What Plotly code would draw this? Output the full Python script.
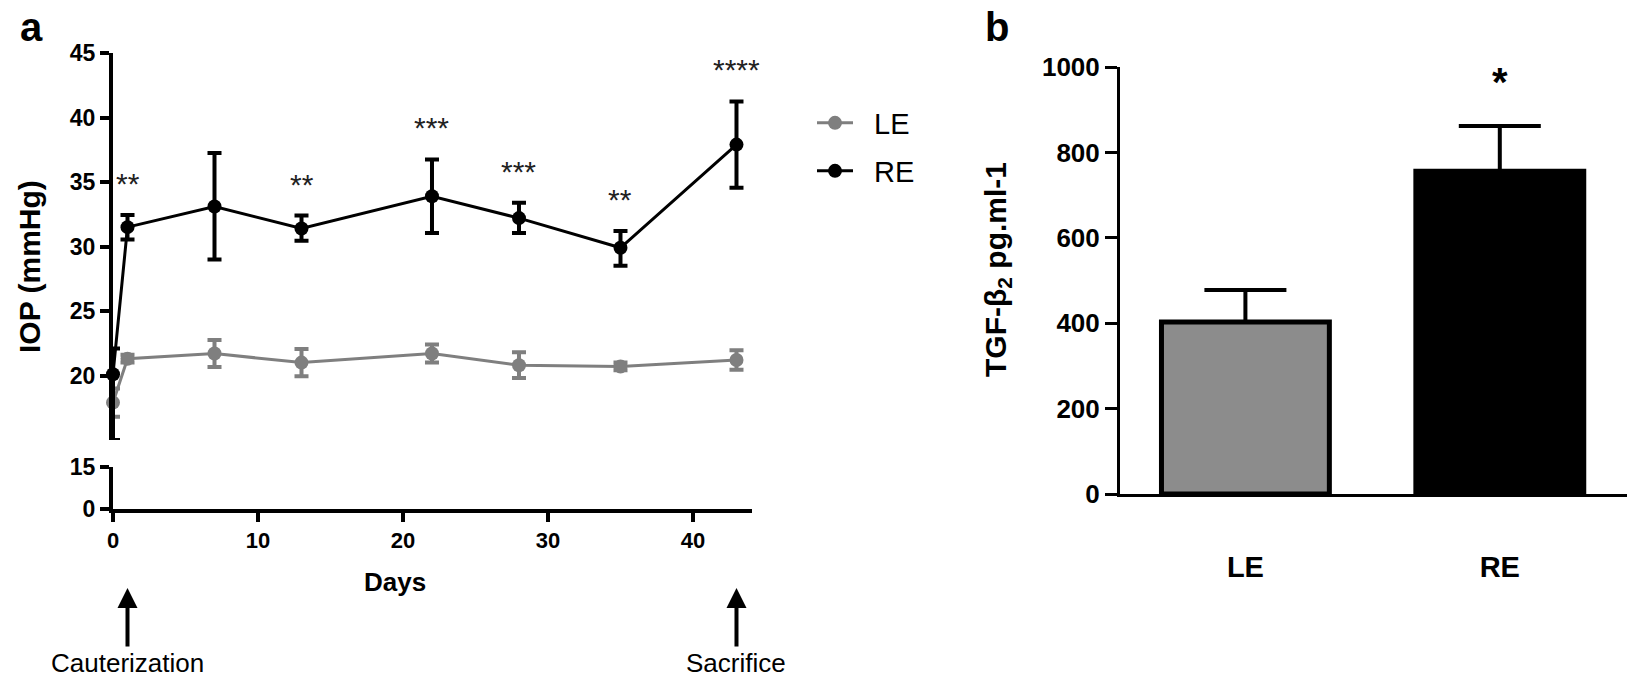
import plotly.graph_objects as go

# ---------------- data ----------------
days = [0, 1, 7, 13, 22, 28, 35, 43]
le_mean = [17.9, 21.3, 21.7, 21.0, 21.7, 20.8, 20.7, 21.2]
le_sem = [1.1, 0.3, 1.05, 1.05, 0.7, 1.0, 0.3, 0.75]
re_mean = [20.1, 31.5, 33.1, 31.4, 33.9, 32.2, 29.9, 37.9]
re_sem_up = [2.0, 0.95, 4.15, 1.0, 2.85, 1.2, 1.3, 3.35]
re_sem_down = [5.1, 0.95, 4.1, 0.95, 2.85, 1.15, 1.4, 3.35]
sig_labels = ["", "**", "", "**", "***", "***", "**", "****"]

event_days = [1, 43]
event_labels = ["Cauterization", "Sacrifice"]

bar_groups = ["LE", "RE"]
bar_values = [403, 756]
bar_err = [75, 106]
bar_sig = ["", "*"]

x_ticks_a = [0, 10, 20, 30, 40]
y_ticks_upper = [20, 25, 30, 35, 40, 45]
y_ticks_lower = [0, 15]
y_ticks_b = [0, 200, 400, 600, 800, 1000]

# ---------------- style ----------------
W, H = 1642, 678
def px(x):
    return x / W
def py(y):
    return 1 - y / H

ARIAL = "Liberation Sans, Arial, sans-serif"
GRAY = "#7f7f7f"
BLACK = "#000000"
NBSP = "\u00a0"

fig = go.Figure()

# invisible trace so that the lower (broken) y segment exists
fig.add_trace(go.Scatter(x=[None], y=[None], xaxis="x", yaxis="y2",
                         showlegend=False, hoverinfo="skip"))

fig.add_trace(go.Scatter(
    x=days, y=le_mean, name=NBSP * 2 + "LE", mode="lines+markers",
    line=dict(color=GRAY, width=3),
    marker=dict(color=GRAY, size=14),
    error_y=dict(type="data", array=le_sem, color=GRAY, thickness=4, width=7),
    xaxis="x", yaxis="y", legend="legend", cliponaxis=False,
))
fig.add_trace(go.Scatter(
    x=days, y=re_mean, name=NBSP * 2 + "RE", mode="lines+markers",
    line=dict(color=BLACK, width=3),
    marker=dict(color=BLACK, size=14),
    error_y=dict(type="data", symmetric=False, array=re_sem_up,
                 arrayminus=re_sem_down, color=BLACK, thickness=4, width=7),
    xaxis="x", yaxis="y", legend="legend2", cliponaxis=False,
))

fig.add_trace(go.Bar(
    x=bar_groups, y=bar_values, width=0.66,
    marker=dict(color=["#8c8c8c", BLACK], line=dict(color=BLACK, width=5)),
    error_y=dict(type="data", symmetric=False, array=bar_err,
                 arrayminus=[0 for _ in bar_err], color=BLACK, thickness=4, width=41),
    xaxis="x3", yaxis="y3", showlegend=False,
))

axis_common = dict(showgrid=False, zeroline=False, showline=True, automargin=False,
                   linecolor=BLACK, ticks="outside", tickcolor=BLACK)

fig.update_layout(
    width=W, height=H,
    margin=dict(l=0, r=0, t=0, b=0, autoexpand=False),
    plot_bgcolor="white", paper_bgcolor="white",
    xaxis=dict(domain=[px(113), px(752)], range=[0, 44.07], anchor="y2",
               tickvals=x_ticks_a, ticklen=9, tickwidth=4, linewidth=4,
               tickfont=dict(family=ARIAL, size=22, color=BLACK, weight="bold"),
               **axis_common),
    yaxis=dict(domain=[py(440), py(53)], range=[15, 45], anchor="x",
               tickvals=y_ticks_upper, ticklen=9, tickwidth=4, linewidth=4,
               tickfont=dict(family=ARIAL, size=23, color=BLACK, weight="bold"),
               **axis_common),
    yaxis2=dict(domain=[py(509), py(467)], range=[0, 15], anchor="x",
                tickvals=y_ticks_lower, ticklen=9, tickwidth=4, linewidth=4,
                tickfont=dict(family=ARIAL, size=23, color=BLACK, weight="bold"),
                **axis_common),
    xaxis3=dict(domain=[px(1120), px(1627)], range=[-0.493, 1.5], anchor="y3",
                type="category", showgrid=False, zeroline=False, showline=True,
                automargin=False, linecolor=BLACK, linewidth=3, ticks="",
                ticklabelstandoff=45,
                tickfont=dict(family=ARIAL, size=29, color=BLACK, weight="bold")),
    yaxis3=dict(domain=[py(494), py(67)], range=[0, 1000], anchor="x3",
                tickvals=y_ticks_b, ticklen=12, tickwidth=3, linewidth=3,
                tickfont=dict(family=ARIAL, size=26, color=BLACK, weight="bold"),
                **axis_common),
    legend=dict(x=px(812), y=py(123), xanchor="left", yanchor="middle", itemwidth=36,
                bgcolor="rgba(0,0,0,0)", font=dict(family=ARIAL, size=29, color=BLACK)),
    legend2=dict(x=px(812), y=py(171), xanchor="left", yanchor="middle", itemwidth=36,
                 bgcolor="rgba(0,0,0,0)", font=dict(family=ARIAL, size=29, color=BLACK)),
)

def label(text, x, y, size, bold=True, angle=0):
    return dict(text=text, x=px(x), y=py(y), xref="paper", yref="paper",
                xanchor="center", yanchor="middle", textangle=angle, showarrow=False,
                font=dict(family=ARIAL, size=size, color=BLACK,
                          weight="bold" if bold else "normal"))

ann = [
    label("a", 31, 27, 40),
    label("b", 997, 27, 40),
    label("IOP (mmHg)", 29, 267, 30, angle=-90),
    label("TGF-β<sub>2</sub> pg.ml-1", 998, 270, 30, angle=-90),
    label("Days", 395, 582, 26),
]

for d, lab in zip(event_days, event_labels):
    ann.append(dict(text=lab, x=d, xref="x", y=py(588), yref="paper",
                    showarrow=True, ax=0, ay=75, arrowhead=2, arrowsize=1.0,
                    arrowwidth=4, arrowcolor=BLACK,
                    font=dict(family=ARIAL, size=26, color=BLACK)))

for d, m, e, lab in zip(days, re_mean, re_sem_up, sig_labels):
    if lab:
        ann.append(dict(text=lab, x=d, y=m + e, xref="x", yref="y",
                        xanchor="center", yanchor="bottom", yshift=13, showarrow=False,
                        font=dict(family=ARIAL, size=30, color="#222222")))

for g, v, e, lab in zip(bar_groups, bar_values, bar_err, bar_sig):
    if lab:
        ann.append(dict(text=lab, x=g, y=v + e, xref="x3", yref="y3",
                        xanchor="center", yanchor="bottom", yshift=20, showarrow=False,
                        font=dict(family=ARIAL, size=40, color=BLACK, weight="bold")))

fig.update_layout(annotations=ann)

fig.write_html("out.html", config={"displayModeBar": False},
               post_script="document.body.style.margin='0px';document.body.style.overflow='hidden';")
